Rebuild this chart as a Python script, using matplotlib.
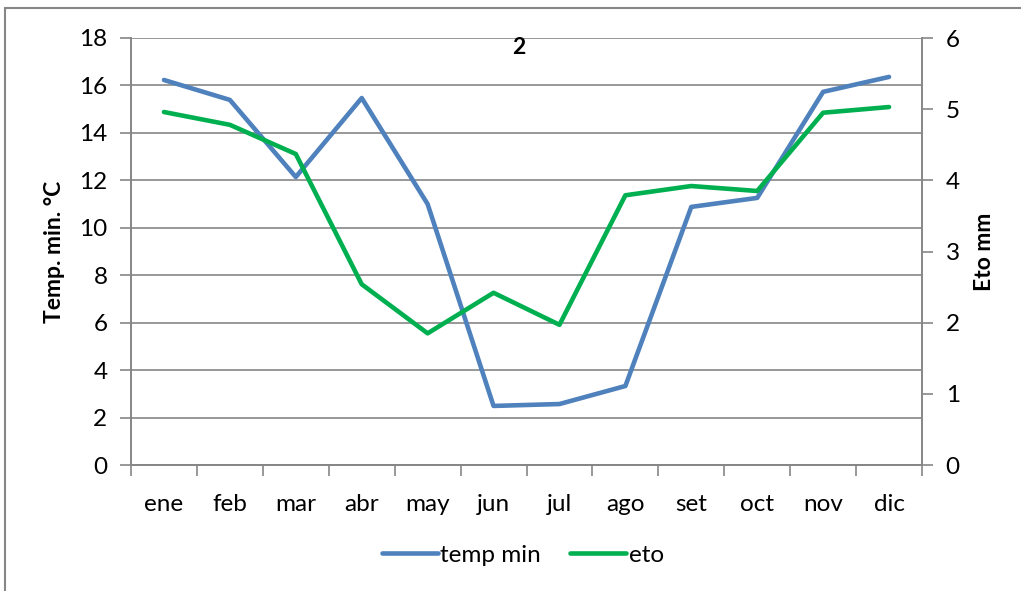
import numpy as np
import matplotlib.pyplot as plt
from matplotlib.patches import Rectangle

plt.rcParams['font.family'] = ['Lato', 'DejaVu Sans']

meses = ["ene", "feb", "mar", "abr", "may", "jun", "jul", "ago", "set", "oct", "nov", "dic"]
temp_min = [16.23, 15.39, 12.14, 15.47, 11.0, 2.49, 2.57, 3.33, 10.88, 11.26, 15.73, 16.36]
eto = [4.96, 4.78, 4.37, 2.54, 1.85, 2.42, 1.97, 3.79, 3.92, 3.85, 4.95, 5.03]

gris = "#868686"
azul = "#4F81BD"
verde = "#00B050"
fs = 16.5   # titulos de ejes
ft = 17.5   # ticks y leyenda

fig = plt.figure(figsize=(10.21, 5.91), dpi=100)
ax = fig.add_axes([131/1021, 1-465/591, (922-131)/1021, (465-38)/591])
ax2 = ax.twinx()

x = np.arange(len(meses))
l1, = ax.plot(x, temp_min, color=azul, lw=3.3, solid_capstyle="round", label="temp min")
l2, = ax2.plot(x, eto, color=verde, lw=3.3, solid_capstyle="round", label="eto")

ax.set_xlim(-0.5, 11.5)
ax.set_ylim(0, 18)
ax.set_yticks(range(0, 19, 2))
ax2.set_ylim(0, 6)
ax2.set_yticks(range(0, 7))
ax.set_xticks(x)
ax.set_xticklabels(meses)
ax.set_xticks(np.arange(-0.5, 12, 1), minor=True)
ax.tick_params(axis="x", which="major", length=0, pad=21, labelsize=ft)
ax.tick_params(axis="x", which="minor", length=8, color=gris, width=1.2, direction="out")
ax.tick_params(axis="y", length=8, color=gris, width=1.2, labelsize=ft, pad=9)
ax2.tick_params(axis="y", length=8, color=gris, width=1.2, labelsize=ft, pad=9)

ax.grid(axis="y", color=gris, lw=1.2)
ax.set_axisbelow(True)
for a in (ax, ax2):
    a.spines["top"].set_visible(False)
    for s in ("left", "right", "bottom"):
        a.spines[s].set_color(gris)
        a.spines[s].set_linewidth(1.2)

ax.set_ylabel("Temp. min. °C", fontsize=fs, fontweight="bold", labelpad=10)
ax2.set_ylabel("Eto mm", fontsize=fs, fontweight="bold", labelpad=10)
fig.text(519/1021, 1-48/591, "2", fontsize=fs, fontweight="bold", ha="center", va="center")

fig.legend([l1, l2], ["temp min", "eto"], loc="center", bbox_to_anchor=(523/1021, 1-555/591),
           ncol=2, frameon=False, fontsize=ft, handlelength=2.3, handletextpad=0.1,
           columnspacing=1.2)

fig.patches.append(Rectangle((5/1021, -0.05), 1.1, 1-8/591+0.05, transform=fig.transFigure,
                             fill=False, edgecolor=gris, lw=1.5))

fig.savefig("out.png", dpi=100)
